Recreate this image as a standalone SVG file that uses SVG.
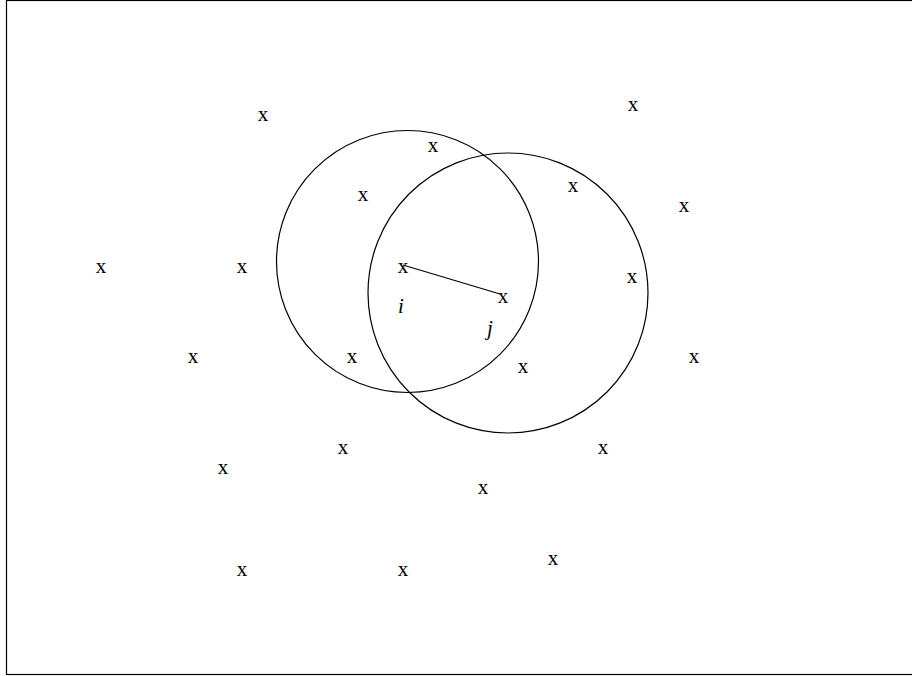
<svg xmlns="http://www.w3.org/2000/svg" width="912" height="676" viewBox="0 0 912 676">
<style>
.x{font-family:"Liberation Serif","Times New Roman",serif;font-size:21px;text-anchor:middle;fill:#000}
.l{font-family:"Liberation Serif","Times New Roman",serif;font-size:21px;font-style:italic;text-anchor:middle;fill:#000}
.c{fill:none;stroke:#000;stroke-width:1.2}
</style>
<rect x="0" y="0" width="912" height="676" fill="#fff"/>
<rect x="6.5" y="0.5" width="910" height="674" fill="none" stroke="#000" stroke-width="1.2"/>
<g id="circle-i"><circle class="c" cx="407.5" cy="261.5" r="131"/></g>
<g id="circle-j"><circle class="c" cx="508" cy="293" r="140"/></g>
<g id="connectors"><line x1="403" y1="265" x2="500" y2="294" stroke="#000" stroke-width="1.2"/></g>
<g id="points">
<text class="x" x="263" y="121">x</text>
<text class="x" x="633" y="111">x</text>
<text class="x" x="433" y="152">x</text>
<text class="x" x="573" y="192">x</text>
<text class="x" x="363" y="201">x</text>
<text class="x" x="684" y="212">x</text>
<text class="x" x="101" y="273">x</text>
<text class="x" x="242" y="273">x</text>
<text class="x" x="403" y="273">x</text>
<text class="x" x="632" y="283">x</text>
<text class="x" x="503" y="303">x</text>
<text class="x" x="193" y="363">x</text>
<text class="x" x="352" y="363">x</text>
<text class="x" x="694" y="363">x</text>
<text class="x" x="523" y="373">x</text>
<text class="x" x="343" y="454">x</text>
<text class="x" x="603" y="454">x</text>
<text class="x" x="223" y="474">x</text>
<text class="x" x="483" y="494">x</text>
<text class="x" x="242" y="576">x</text>
<text class="x" x="403" y="576">x</text>
<text class="x" x="553" y="565">x</text>
</g>
<g id="label-i"><text class="l" x="401" y="313">i</text></g>
<g id="label-j"><text class="l" x="490" y="335">j</text></g>
</svg>
